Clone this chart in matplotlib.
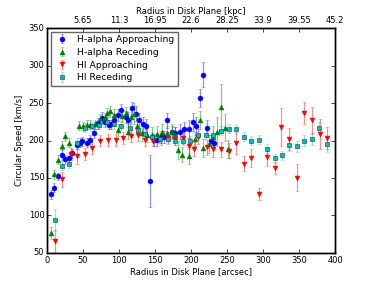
import numpy as np
import matplotlib
matplotlib.use("Agg")
import matplotlib.pyplot as plt

# H-alpha approaching side: radius [arcsec], speed [km/s], error
ha_app_r = [5.5, 10, 15, 20, 25, 30, 35, 41, 45, 49, 55, 60, 65, 70, 76, 81, 86, 89,
            93, 98, 103, 109, 113, 118, 123, 128, 133, 138, 143, 148, 153, 158, 163,
            167, 173, 178, 185, 190, 197, 202, 207, 212, 217, 222, 227, 232]
ha_app_v = [128, 137, 152, 181, 175, 177, 183, 194, 197, 199, 197, 201, 210, 223, 230,
            225, 221, 222, 228, 234, 241, 232, 228, 244, 236, 227, 222, 219, 146, 201,
            201, 205, 205, 227, 212, 210, 212, 215, 216, 225, 220, 257, 288, 217, 200, 197]
ha_app_e = [6, 6, 5, 7, 6, 6, 6, 6, 6, 6, 6, 6, 6, 7, 8, 7, 6, 6, 8, 8, 8, 8, 10, 8,
            10, 10, 10, 10, 35, 8, 8, 8, 8, 10, 8, 8, 10, 10, 12, 12, 12, 12, 17, 10, 8, 8]

# H-alpha receding side
ha_rec_r = [5.5, 10, 15, 20, 25, 30, 44, 50, 55, 60, 67, 74, 80, 83, 88, 93, 98, 104,
            109, 113, 117, 121, 125, 132, 139, 146, 153, 160, 166, 173, 178, 182, 188,
            197, 205, 212, 217, 225, 231, 236, 241, 247, 251]
ha_rec_v = [76, 155, 174, 193, 206, 197, 220, 219, 221, 221, 222, 229, 231, 237, 239,
            234, 214, 233, 237, 212, 232, 236, 220, 210, 208, 208, 209, 212, 210, 212,
            208, 187, 181, 179, 202, 228, 190, 195, 205, 212, 245, 217, 189]
ha_rec_e = [8, 6, 6, 6, 6, 6, 6, 6, 6, 6, 6, 6, 6, 7, 7, 8, 8, 8, 8, 10, 10, 14, 10,
            10, 10, 10, 10, 10, 10, 10, 10, 12, 10, 10, 10, 12, 12, 12, 15, 20, 30, 18, 12]

# HI approaching side
hi_app_r = [10.3, 20.6, 33, 42, 52, 63, 73, 84, 95, 105, 116, 126, 136, 147, 158, 168,
            178, 189, 197, 204, 210, 222, 231, 242, 252, 262, 273, 283, 294, 305, 316,
            325, 336, 347, 357, 368, 379, 389]
hi_app_v = [66, 148, 182, 179, 182, 190, 200, 201, 201, 203, 206, 208, 201, 200, 202,
            203, 202, 203, 193, 189, 205, 191, 188, 188, 186, 197, 169, 177, 128, 178,
            163, 218, 202, 150, 237, 227, 209, 203]
hi_app_e = [15, 10, 8, 10, 8, 8, 8, 8, 8, 8, 8, 8, 8, 8, 8, 8, 8, 8, 10, 10, 10, 10,
            10, 10, 10, 15, 10, 12, 8, 12, 8, 25, 15, 18, 15, 18, 20, 15]

# HI receding side
hi_rec_r = [10.3, 20.6, 31, 41, 52, 62, 72, 83, 93, 103, 115, 126, 136, 146, 157, 168,
            178, 189, 199, 210, 221, 231, 242, 252, 263, 273, 283, 294, 305, 316, 326,
            336, 347, 357, 368, 378, 389]
hi_rec_v = [94, 166, 169, 197, 217, 219, 221, 225, 222, 220, 217, 214, 209, 205, 202,
            202, 200, 200, 200, 207, 208, 207, 213, 216, 215, 205, 200, 201, 189, 176,
            180, 194, 192, 200, 202, 217, 195]
hi_rec_e = [15, 6, 6, 6, 6, 6, 6, 6, 6, 6, 6, 6, 6, 6, 6, 6, 6, 6, 6, 6, 6, 6, 6, 6,
            6, 6, 6, 6, 6, 6, 6, 8, 8, 8, 8, 8, 10]

kpc_ticks = [50, 100, 150, 200, 250, 300, 350, 400]
kpc_labels = ['5.65', '11.3', '16.95', '22.6', '28.25', '33.9', '39.55', '45.2']

plt.style.use('classic')
plt.rcParams['font.size'] = 6

fig = plt.figure(figsize=(3.74, 2.81), dpi=100)
ax = fig.add_axes([0.126, 0.1, 0.77, 0.8])

series = [
    (ha_app_r, ha_app_v, ha_app_e, 'o', 'b', 'H-alpha Approaching'),
    (ha_rec_r, ha_rec_v, ha_rec_e, '^', 'g', 'H-alpha Receding'),
    (hi_app_r, hi_app_v, hi_app_e, 'v', 'r', 'HI Approaching'),
    (hi_rec_r, hi_rec_v, hi_rec_e, 's', 'c', 'HI Receding'),
]
for r, v, e, m, c, lab in series:
    ecol = matplotlib.colors.to_rgba(c, 0.45)
    ax.errorbar(r, v, yerr=e, fmt=m, color=c, ecolor=ecol, ms=3.5, mew=0.4,
                mec='0.2' if m == 's' else c, elinewidth=0.9, capsize=1.5,
                capthick=0.9, label=lab)

ax.set_xlim(0, 400)
ax.set_ylim(50, 350)
ax.set_xlabel('Radius in Disk Plane [arcsec]', fontsize=6, labelpad=2)
ax.set_ylabel('Circular Speed [km/s]', fontsize=6, labelpad=3)
ax.tick_params(labelsize=6, length=3, direction='in', pad=2)

ax2 = ax.twiny()
ax2.set_xlim(0, 400)
ax2.set_xticks(kpc_ticks)
ax2.set_xticklabels(kpc_labels)
ax2.tick_params(labelsize=6, length=3, direction='in', pad=2)
ax2.set_xlabel('Radius in Disk Plane [kpc]', fontsize=6, labelpad=2)

leg = ax.legend(loc='upper left', numpoints=1, fontsize=6.7, frameon=True,
                fancybox=False, borderaxespad=0.4, handletextpad=0.9,
                labelspacing=0.4, handlelength=1.6, borderpad=0.35)
leg.get_frame().set_edgecolor('0.4')

fig.savefig('out.png', dpi=100)
